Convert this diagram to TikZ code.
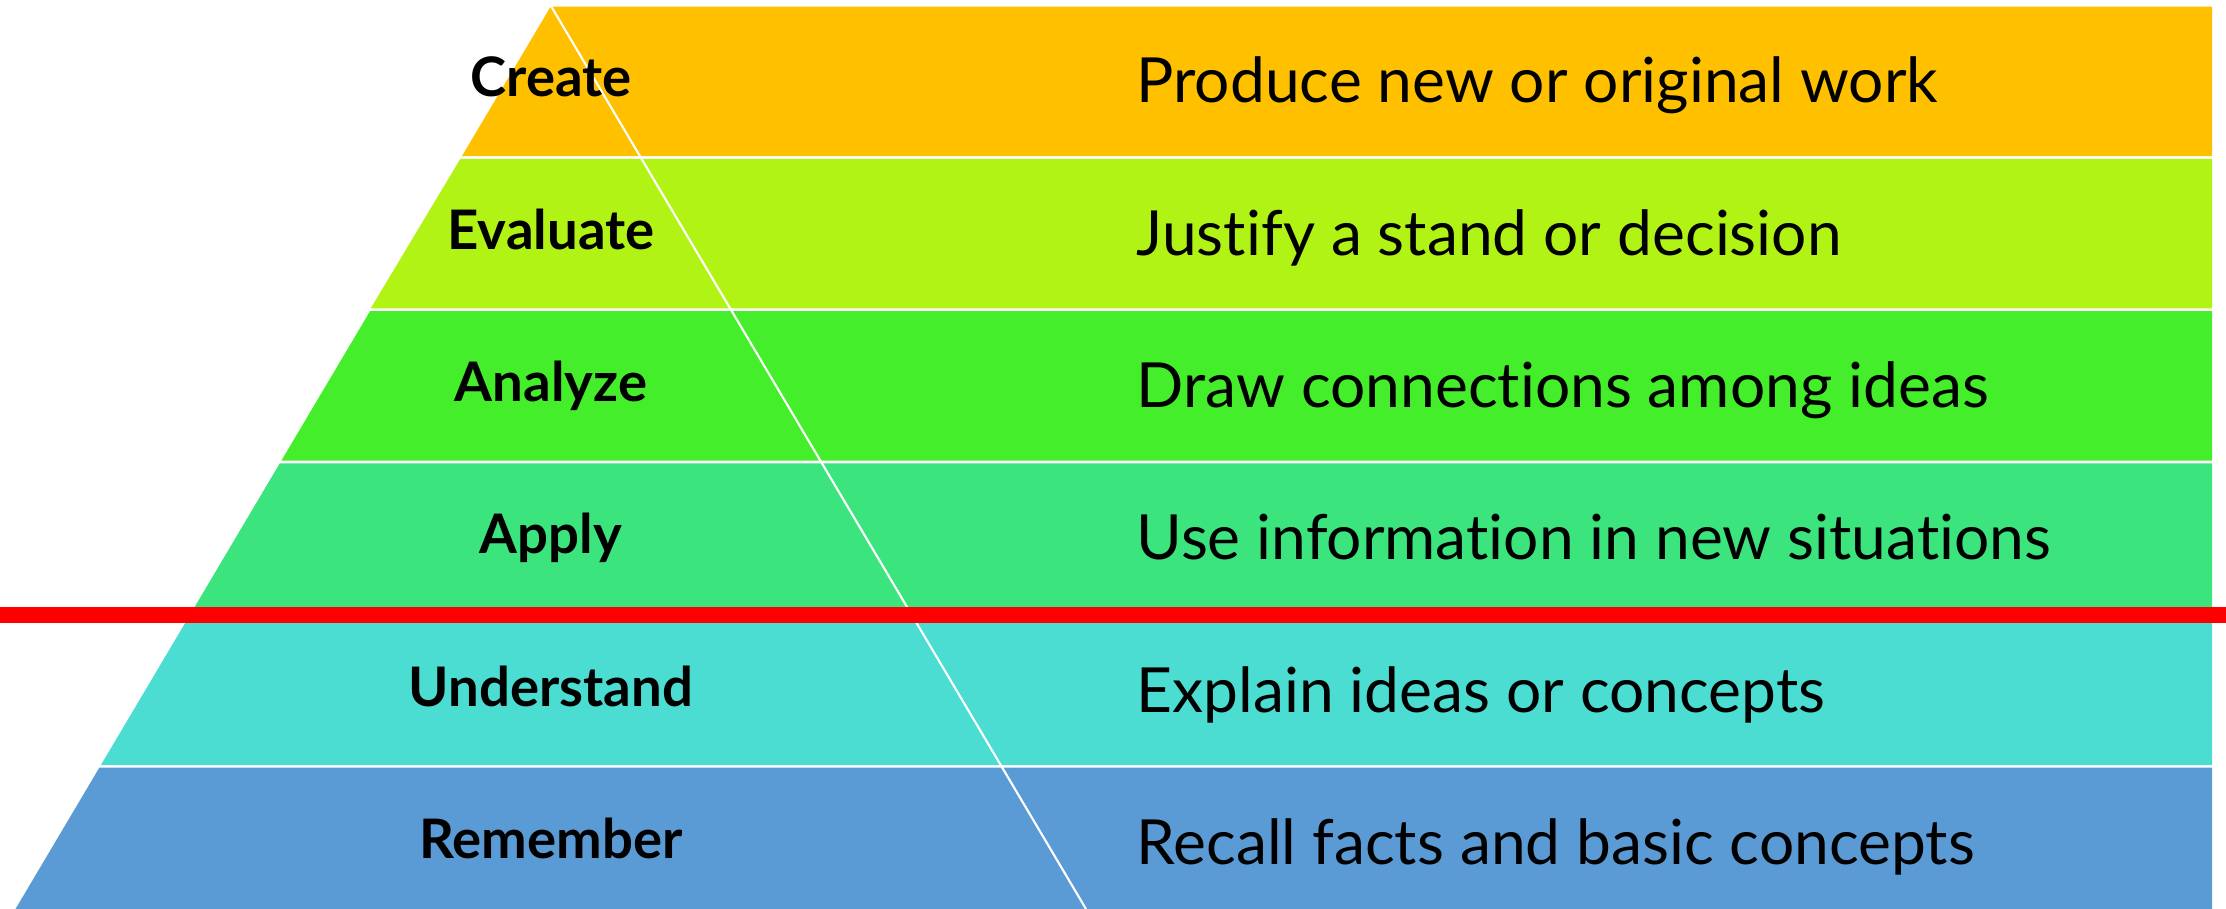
\documentclass[tikz,border=0pt]{standalone}
\usepackage{fontspec}
\setmainfont{Lato}[Ligatures=NoCommon]
\usetikzlibrary{positioning}

\definecolor{createcol}{HTML}{FFC000}
\definecolor{evaluatecol}{HTML}{B2F316}
\definecolor{analyzecol}{HTML}{45EE2A}
\definecolor{applycol}{HTML}{3CE47E}
\definecolor{understandcol}{HTML}{4BDDD2}
\definecolor{remembercol}{HTML}{5B9BD5}

\begin{document}
\begin{tikzpicture}[
		x=0.01cm, y=-0.01cm,
		level/.style={font=\bfseries\fontsize{15.5}{18}\selectfont, anchor=base, inner sep=0pt},
		desc/.style={font=\fontsize{17.7}{20}\selectfont, anchor=base west, inner sep=0pt},
		split/.style={white, line width=0.6pt},
		cut/.style={red, line width=4.5pt},
	]
		\useasboundingbox (0,0) rectangle (2226,909);
		\coordinate (apex) at (551,6);
		\coordinate (base) at (1086,909);
		\coordinate (cut left) at (0,615);
		\coordinate (cut right) at (2226,615);
		
		\fill[createcol] (550.6,6.7) -- (2212,6.7) -- (2212,156.2) -- (461.9,156.2) -- cycle;
		\fill[evaluatecol] (460.3,158.9) -- (2212,158.9) -- (2212,308.4) -- (370.7,308.4) -- cycle;
		\fill[analyzecol] (370.1,311.1) -- (2212,311.1) -- (2212,460.6) -- (281.4,460.6) -- cycle;
		\fill[applycol] (279.8,463.3) -- (2212,463.3) -- (2212,612.8) -- (191.2,612.8) -- cycle;
		\fill[understandcol] (189.6,615.5) -- (2212,615.5) -- (2212,765) -- (100.9,765) -- cycle;
		\fill[remembercol] (99.3,767.7) -- (2212,767.7) -- (2212,909) -- (15.5,909) -- cycle;
		
		\draw[split] (apex) -- (base);
		\draw[cut] (cut left) -- (cut right);
		
		\node[level] (create) at (551,97) {Create};
		\node[level] (evaluate) at (551,249) {Evaluate};
		\node[level] (analyze) at (551,401) {Analyze};
		\node[level] (apply) at (551,553) {Apply};
		\node[level] (understand) at (551,706) {Understand};
		\node[level] (remember) at (551,858) {Remember};
		
		\node[desc] (create desc) at (1136,103) {Produce new or original work};
		\node[desc] (evaluate desc) at (1136,255) {Justify a stand or decision};
		\node[desc] (analyze desc) at (1136,407) {Draw connections among ideas};
		\node[desc] (apply desc) at (1136,559) {Use information in new situations};
		\node[desc] (understand desc) at (1136,712) {Explain ideas or concepts};
		\node[desc] (remember desc) at (1136,864) {Recall facts and basic concepts};
	\end{tikzpicture}
\end{document}
